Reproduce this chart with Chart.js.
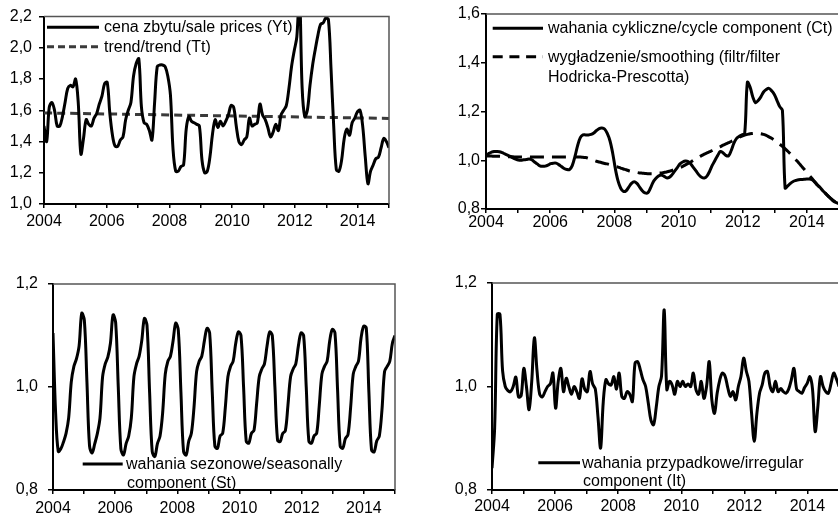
<!DOCTYPE html>
<html>
<head>
<meta charset="utf-8">
<script src="https://cdn.jsdelivr.net/npm/chart.js@4.4.1/dist/chart.umd.min.js"></script>
<style>
  html, body { margin: 0; padding: 0; background: #fff; width: 838px; height: 520px; overflow: hidden; }
  canvas { position: absolute; }
  .leg { position: absolute; font-family: "Liberation Sans", Arial, sans-serif; font-size: 16px; line-height: 19px; color: #000; white-space: nowrap; }
  svg { position: absolute; left: 0; top: 0; }
</style>
</head>
<body>
<canvas id="yt" width="400" height="240" style="left:0;top:0"></canvas>
<canvas id="ct" width="422" height="240" style="left:420px;top:0"></canvas>
<canvas id="st" width="410" height="258" style="left:0;top:262px"></canvas>
<canvas id="it" width="422" height="258" style="left:420px;top:262px"></canvas>

<svg width="838" height="520">
  <line x1="47" y1="27.3" x2="99" y2="27.3" stroke="#000" stroke-width="3"/>
  <line x1="47" y1="46.7" x2="99" y2="46.7" stroke="#3a3a3a" stroke-width="3" stroke-dasharray="7 4"/>
  <line x1="492.7" y1="28.3" x2="543" y2="28.3" stroke="#000" stroke-width="3"/>
  <line x1="492.7" y1="56.7" x2="543" y2="56.7" stroke="#000" stroke-width="3" stroke-dasharray="10 6.7"/>
  <line x1="82.7" y1="464" x2="122.7" y2="464" stroke="#000" stroke-width="3"/>
  <line x1="538.3" y1="462.7" x2="580" y2="462.7" stroke="#000" stroke-width="3"/>
</svg>

<div class="leg" style="left:104px;top:17px">cena zbytu/sale prices (Yt)</div>
<div class="leg" style="left:104px;top:37px">trend/trend (Tt)</div>
<div class="leg" style="left:548px;top:18px">wahania cykliczne/cycle component (Ct)</div>
<div class="leg" style="left:548px;top:47px">wygładzenie/smoothing (filtr/filter</div>
<div class="leg" style="left:548px;top:67px">Hodricka-Prescotta)</div>
<div class="leg" style="left:126px;top:454px">wahania sezonowe/seasonally</div>
<div class="leg" style="left:127px;top:473px">component (St)</div>
<div class="leg" style="left:582px;top:453px">wahania przypadkowe/irregular</div>
<div class="leg" style="left:583px;top:471px">component (It)</div>

<script>
// monthly data, Jan 2004 - Dec 2014
const firstYear = 2004;
const lastYear = 2015;
const tickYears = [2004, 2006, 2008, 2010, 2012, 2014];

const salePrices = [
  1.50, 1.40, 1.62, 1.65, 1.60, 1.50, 1.50, 1.56, 1.65, 1.74, 1.76, 1.75,
  1.80, 1.65, 1.32, 1.42, 1.54, 1.51, 1.50, 1.55, 1.58, 1.64, 1.69, 1.77,
  1.78, 1.58, 1.44, 1.37, 1.37, 1.41, 1.43, 1.54, 1.60, 1.65, 1.82, 1.90,
  1.93, 1.62, 1.52, 1.51, 1.47, 1.41, 1.65, 1.88, 1.89, 1.89, 1.88, 1.82,
  1.70, 1.35, 1.21, 1.21, 1.24, 1.25, 1.48, 1.56, 1.53, 1.52, 1.51, 1.50,
  1.28, 1.20, 1.21, 1.30, 1.45, 1.54, 1.49, 1.53, 1.50, 1.53, 1.57, 1.63,
  1.62, 1.50, 1.40, 1.38, 1.41, 1.43, 1.55, 1.50, 1.51, 1.52, 1.64, 1.57,
  1.54, 1.49, 1.43, 1.46, 1.51, 1.47, 1.57, 1.60, 1.63, 1.74, 1.88, 1.98,
  2.07, 2.35, 1.75, 1.56, 1.60, 1.76, 1.89, 1.99, 2.08, 2.15, 2.16, 2.19,
  2.18, 1.86, 1.50, 1.22, 1.21, 1.28, 1.42, 1.48, 1.44, 1.52, 1.55, 1.59,
  1.60, 1.50, 1.30, 1.13, 1.21, 1.25, 1.29, 1.30, 1.36, 1.42, 1.40, 1.36
];
const trendYears = [2004, 2015];
const trendValues = [1.583, 1.548];

const cycle = [
  1.018, 1.028, 1.033, 1.036, 1.036, 1.035, 1.031, 1.026, 1.021, 1.016, 1.010, 1.005,
  1.001, 1.000, 1.002, 1.003, 1.005, 1.002, 0.993, 0.985, 0.977, 0.975, 0.976, 0.980,
  0.986, 0.988, 0.988, 0.982, 0.974, 0.966, 0.962, 0.962, 0.978, 1.015, 1.060, 1.093,
  1.104, 1.104, 1.104, 1.106, 1.112, 1.122, 1.130, 1.132, 1.128, 1.110, 1.080, 1.030,
  0.965, 0.915, 0.885, 0.872, 0.875, 0.890, 0.905, 0.912, 0.905, 0.890, 0.875, 0.866,
  0.866, 0.885, 0.910, 0.925, 0.935, 0.940, 0.935, 0.928, 0.930, 0.940, 0.955, 0.970,
  0.985, 0.993, 0.997, 0.995, 0.985, 0.970, 0.955, 0.940, 0.930, 0.927, 0.935, 0.955,
  0.980, 1.000, 1.020, 1.036, 1.030, 1.020, 1.018, 1.040, 1.070, 1.090, 1.098, 1.104,
  1.110, 1.320, 1.300, 1.260, 1.236, 1.245, 1.260, 1.280, 1.290, 1.295, 1.285, 1.270,
  1.245, 1.220, 1.205, 0.886, 0.895, 0.905, 0.913, 0.917, 0.920, 0.921, 0.922, 0.923,
  0.923, 0.920, 0.910, 0.898, 0.888, 0.875, 0.864, 0.853, 0.842, 0.832, 0.826, 0.822
];
const hpSmooth = [
  1.018, 1.017, 1.017, 1.016, 1.016, 1.016, 1.015, 1.015, 1.014, 1.014, 1.014, 1.013,
  1.013, 1.013, 1.013, 1.013, 1.013, 1.013, 1.013, 1.013, 1.013, 1.013, 1.013, 1.013,
  1.013, 1.013, 1.013, 1.013, 1.013, 1.013, 1.013, 1.013, 1.013, 1.013, 1.013, 1.013,
  1.012, 1.011, 1.008, 1.004, 1.000, 0.996, 0.993, 0.990, 0.987, 0.985, 0.982, 0.979,
  0.975, 0.972, 0.968, 0.964, 0.961, 0.957, 0.954, 0.952, 0.950, 0.948, 0.947, 0.946,
  0.945, 0.945, 0.945, 0.946, 0.947, 0.948, 0.950, 0.952, 0.955, 0.958, 0.962, 0.966,
  0.970, 0.975, 0.981, 0.987, 0.993, 1.000, 1.007, 1.013, 1.019, 1.025, 1.030, 1.035,
  1.040, 1.046, 1.051, 1.056, 1.062, 1.067, 1.072, 1.077, 1.083, 1.088, 1.094, 1.099,
  1.103, 1.106, 1.109, 1.110, 1.111, 1.110, 1.109, 1.106, 1.102, 1.096, 1.090, 1.083,
  1.076, 1.066, 1.057, 1.047, 1.037, 1.026, 1.014, 1.002, 0.990, 0.977, 0.964, 0.951,
  0.938, 0.925, 0.912, 0.899, 0.887, 0.875, 0.864, 0.853, 0.843, 0.834, 0.827, 0.822
];

const seasonal = [
  1.105, 0.950, 0.875, 0.880, 0.893, 0.910, 0.940, 1.010, 1.040, 1.055, 1.080, 1.143,
  1.130, 1.010, 0.885, 0.872, 0.890, 0.910, 0.940, 1.020, 1.045, 1.058, 1.085, 1.140,
  1.125, 1.000, 0.880, 0.868, 0.890, 0.905, 0.940, 1.020, 1.045, 1.060, 1.090, 1.133,
  1.120, 0.990, 0.875, 0.865, 0.890, 0.905, 0.950, 1.025, 1.050, 1.060, 1.090, 1.124,
  1.110, 0.990, 0.875, 0.868, 0.895, 0.910, 0.960, 1.030, 1.050, 1.060, 1.090, 1.114,
  1.105, 0.990, 0.885, 0.881, 0.905, 0.910, 0.960, 1.020, 1.040, 1.050, 1.085, 1.107,
  1.100, 1.000, 0.895, 0.891, 0.910, 0.916, 0.968, 1.020, 1.035, 1.045, 1.080, 1.107,
  1.100, 1.000, 0.897, 0.894, 0.910, 0.915, 0.965, 1.020, 1.035, 1.045, 1.080, 1.105,
  1.100, 1.000, 0.895, 0.891, 0.905, 0.910, 0.965, 1.025, 1.040, 1.050, 1.090, 1.112,
  1.105, 0.995, 0.885, 0.881, 0.900, 0.908, 0.960, 1.025, 1.040, 1.050, 1.095, 1.118,
  1.115, 0.990, 0.878, 0.874, 0.895, 0.905, 0.955, 1.030, 1.040, 1.050, 1.085, 1.100
];

const irregular = [
  0.842, 0.920, 1.140, 1.140, 1.030, 1.000, 0.992, 0.990, 1.000, 1.018, 0.980, 0.982,
  1.035, 1.000, 0.955, 1.010, 1.094, 1.030, 0.985, 0.980, 0.990, 1.000, 1.005, 1.026,
  0.958, 1.010, 1.035, 0.990, 1.016, 1.000, 0.985, 1.000, 0.990, 0.977, 1.015, 0.995,
  0.990, 1.029, 1.005, 0.995, 0.942, 0.881, 0.970, 1.013, 1.005, 1.003, 1.019, 0.995,
  1.026, 0.981, 0.977, 0.990, 0.985, 0.971, 1.045, 1.048, 1.032, 1.013, 1.000, 0.968,
  0.935, 0.926, 0.960, 1.000, 1.020, 1.148, 0.994, 1.010, 1.003, 0.985, 1.010, 1.000,
  1.010, 1.000, 1.005, 1.000, 1.026, 0.994, 0.985, 1.010, 0.977, 1.000, 1.048, 0.974,
  0.948, 0.987, 1.013, 1.026, 1.020, 0.998, 0.981, 0.990, 0.974, 1.000, 1.020, 1.055,
  1.030, 1.010, 0.948, 0.894, 0.948, 0.987, 1.003, 1.026, 1.029, 1.000, 0.990, 1.010,
  0.990, 0.996, 0.990, 0.987, 0.995, 1.013, 1.035, 0.995, 0.990, 0.987, 0.998, 1.006,
  1.019, 0.995, 0.913, 0.960, 1.019, 1.000, 0.990, 0.987, 1.006, 1.026, 1.015, 1.000
];

// month i sits between the first and last year edges, like the original line chart
function points(values) {
  const step = (lastYear - firstYear) / (values.length - 1);
  return values.map((v, i) => ({ x: firstYear + i * step, y: v }));
}

const frame = {
  id: 'frame',
  afterDatasetsDraw(chart) {
    const { ctx, chartArea: a } = chart;
    ctx.save();
    ctx.strokeStyle = '#555';
    ctx.lineWidth = 1.5;
    ctx.beginPath();
    ctx.moveTo(a.left, a.top);
    ctx.lineTo(a.right, a.top);
    ctx.lineTo(a.right, a.bottom);
    ctx.stroke();
    ctx.restore();
  }
};

const tickFont = { family: 'Liberation Sans', size: 16 };

function makePanel(id, box, yMin, yMax, datasets) {
  return new Chart(document.getElementById(id), {
    type: 'line',
    data: { datasets: datasets },
    options: {
      responsive: false,
      animation: false,
      events: [],
      layout: { padding: { top: box.top, right: box.right, left: 0, bottom: 0 } },
      plugins: { legend: { display: false }, tooltip: { enabled: false } },
      elements: { point: { radius: 0 }, line: { tension: 0.35, borderJoinStyle: 'round' } },
      scales: {
        x: {
          type: 'linear',
          min: firstYear,
          max: lastYear,
          afterFit: s => { s.height = box.xh; },
          border: { color: '#000', width: 2 },
          grid: { drawOnChartArea: false, drawTicks: true, tickLength: 4, color: '#000', lineWidth: 1.5 },
          ticks: {
            stepSize: 1, autoSkip: false, maxRotation: 0, padding: box.xpad,
            color: '#000', font: tickFont,
            callback: v => tickYears.includes(v) ? String(v) : ''
          }
        },
        y: {
          min: yMin,
          max: yMax,
          afterFit: s => { s.width = box.yw; },
          border: { color: '#000', width: 2 },
          grid: { drawOnChartArea: false, drawTicks: true, tickLength: 5, color: '#000', lineWidth: 1.5 },
          ticks: {
            stepSize: 0.2, padding: box.ypad, color: '#000', font: tickFont,
            callback: v => v.toFixed(1).replace('.', ',')
          }
        }
      }
    },
    plugins: [frame]
  });
}

makePanel('yt', { top: 13, right: 11, yw: 44, xh: 36, xpad: 4, ypad: 7 }, 1.0, 2.2, [
  { data: points(salePrices), borderColor: '#000', borderWidth: 3 },
  { data: trendYears.map((x, i) => ({ x: x, y: trendValues[i] })), borderColor: '#3a3a3a', borderWidth: 3, borderDash: [8, 5] }
]);

makePanel('ct', { top: 14, right: 3, yw: 66, xh: 31, xpad: 0, ypad: 1 }, 0.8, 1.6, [
  { data: points(cycle), borderColor: '#000', borderWidth: 3 },
  { data: points(hpSmooth), borderColor: '#000', borderWidth: 3, borderDash: [14, 8] }
]);

makePanel('st', { top: 22, right: 15, yw: 53, xh: 30, xpad: 5, ypad: 10 }, 0.8, 1.2, [
  { data: points(seasonal), borderColor: '#000', borderWidth: 3 }
]);

makePanel('it', { top: 21, right: 1, yw: 72, xh: 30, xpad: 3, ypad: 10 }, 0.8, 1.2, [
  { data: points(irregular), borderColor: '#000', borderWidth: 3 }
]);
</script>
</body>
</html>
